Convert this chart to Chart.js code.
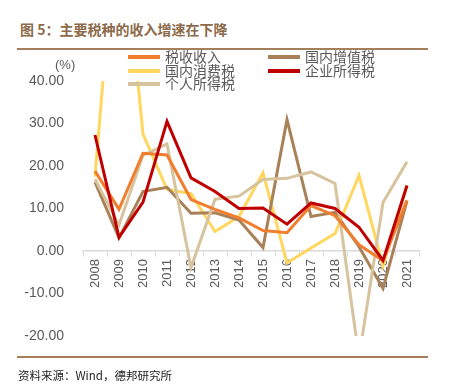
<!DOCTYPE html>
<html><head><meta charset="utf-8">
<script src="https://cdn.jsdelivr.net/npm/chart.js@4"></script>
<style>
body{margin:0;width:452px;height:392px;background:#fff;position:relative;overflow:hidden;font-family:"Noto Sans CJK SC",sans-serif;}
#title{position:absolute;left:20px;top:19px;font-size:14px;line-height:20px;font-weight:bold;color:#8C6A4A;white-space:nowrap;}
.rule{position:absolute;left:17px;width:411px;height:2px;background:#A57E5C;}
#wrap{position:absolute;left:0;top:0;width:452px;height:392px;}
#unit{position:absolute;left:55px;top:57px;font-size:13px;line-height:16px;color:#595959;font-family:"Liberation Sans",sans-serif;}
.lg{position:absolute;font-size:14px;line-height:14px;color:#595959;white-space:nowrap;}
.lg i{position:absolute;left:0;top:5px;width:32px;height:4px;}
.lg span{position:absolute;left:37px;top:-1px;}
#src{position:absolute;left:18px;top:367px;font-size:11.5px;line-height:16px;color:#222;white-space:nowrap;}
</style></head>
<body>
<div id="title">图 5：主要税种的收入增速在下降</div>
<div class="rule" style="top:48px"></div>
<div id="wrap"><canvas id="c" width="452" height="392"></canvas></div>
<div id="unit">(%)</div>
<div id="legend"></div>
<div class="rule" style="top:356px"></div>
<div id="src">资料来源：Wind，德邦研究所</div>
<script>
const years = ['2008','2009','2010','2011','2012','2013','2014','2015','2016','2017','2018','2019','2020','2021'];
const taxRevenue  = [18.8, 9.8, 23.0, 22.6, 12.1, 9.8, 7.8, 4.8, 4.3, 10.7, 8.3, 1.5, -2.3, 11.9];
const domesticVAT = [16.2, 3.1, 14.0, 15.0, 8.9, 9.0, 7.3, 0.8, 30.9, 8.1, 9.1, 1.0, -8.8, 11.8];
const consumption = [17.5, 85.4, 27.5, 14.5, 13.5, 4.6, 8.1, 18.4, -2.8, 0.7, 4.1, 17.8, -3.5, 15.4];
const corporate   = [27.3, 3.2, 11.5, 30.5, 17.2, 14.0, 10.0, 10.1, 6.3, 11.3, 10.0, 5.6, -2.2, 15.4];
const personal    = [16.9, 6.1, 22.5, 25.2, -3.9, 12.2, 12.9, 16.8, 17.1, 18.6, 15.9, -25.1, 11.4, 21.0];
const seriesNames = ['税收收入','国内增值税','国内消费税','企业所得税','个人所得税'];
const seriesData = [taxRevenue, domesticVAT, consumption, corporate, personal];
const seriesColors = ['#F07E2E','#A98158','#FFD75E','#C00000','#D7C49E'];
const drawOrder = [1, 3, 4, 0, 2];

// legend (two columns)
const legendPos = [[128,50],[268,50],[128,64],[268,64],[128,77]];
const lg = document.getElementById('legend');
seriesNames.forEach((n,i)=>{
  const d = document.createElement('div');
  d.className='lg';
  d.style.left = legendPos[i][0]+'px';
  d.style.top = legendPos[i][1]+'px';
  d.innerHTML = '<i style="background:'+seriesColors[i]+'"></i><span>'+n+'</span>';
  lg.appendChild(d);
});

new Chart(document.getElementById('c'), {
  type:'line',
  data:{
    labels: years,
    datasets: seriesNames.map((n,i)=>({
      label:n, data:seriesData[i], borderColor:seriesColors[i], backgroundColor:seriesColors[i],
      borderWidth:3, pointRadius:0, tension:0, fill:false, order:drawOrder[i]
    }))
  },
  options:{
    responsive:false, animation:false,
    layout:{padding:{left:0, top:81, right:33, bottom:56}},
    plugins:{legend:{display:false}, tooltip:{enabled:false}},
    scales:{
      x:{
        position:{y:0}, offset:true,
        grid:{display:true, drawOnChartArea:false, drawTicks:true, tickLength:5, color:'#d9d9d9', offset:true},
        border:{color:'#d9d9d9', width:1.5},
        ticks:{minRotation:90, maxRotation:90, autoSkip:false, color:'#595959', padding:3,
               font:{size:13, family:'Liberation Sans'}}
      },
      y:{
        min:-20, max:40,
        ticks:{stepSize:10, callback:v=>Number(v).toFixed(2), color:'#595959', padding:11,
               font:{size:14, family:'Liberation Sans'}},
        grid:{display:false}, border:{display:false},
        afterFit:s=>{s.width=83;}
      }
    }
  }
});
</script>
</body></html>
